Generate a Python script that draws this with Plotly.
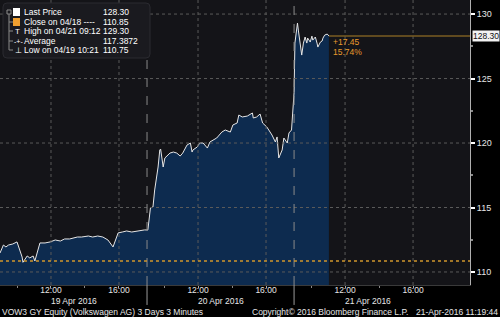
import plotly.graph_objects as go

# ---- data ----
day_labels = ["19 Apr 2016", "20 Apr 2016", "21 Apr 2016"]
day1_times = ["09:00","09:06","09:12","09:21","09:30","09:45","10:00","10:18","10:21","10:36","10:45","10:57","11:03",
              "11:21","11:39","11:57","12:15","12:33","12:48","13:06","13:33","13:48","14:12","14:27","14:45",
              "15:03","15:21","15:39","15:57","16:12","16:27","16:45","17:03","17:21","17:30"]
day1_prices = [111.47,111.86,112.09,111.94,112.09,112.17,112.33,111.16,110.75,111.24,111.09,111.24,110.85,
               112.25,112.25,112.33,112.48,112.40,112.56,112.56,112.71,112.71,112.79,112.71,112.79,
               112.71,112.48,111.94,113.03,113.10,113.18,113.10,113.18,113.26,113.26]
day2_times = ["09:03","09:12","09:21","09:27","09:39","09:45","09:48","09:57","10:03","10:12","10:21","10:33",
              "10:45","10:57","11:06","11:21","11:33","11:39","11:42","11:57","12:06","12:18","12:33","12:42",
              "13:00","13:06","13:24","13:36","13:54","14:03","14:18","14:24","14:36","14:54","15:12","15:15",
              "15:27","15:39","15:48","16:03","16:21","16:33","16:39","16:45","16:57","17:03","17:15","17:21","17:30"]
day2_prices = [113.26,114.96,115.04,116.36,118.14,119.46,119.53,118.14,118.84,119.07,119.22,119.30,
               119.22,118.99,119.22,119.84,120.00,119.30,119.46,119.69,120.00,120.00,119.61,120.08,
               120.31,120.39,120.85,121.01,120.85,121.40,121.55,122.17,122.02,122.09,122.33,121.94,
               122.02,122.25,121.55,121.24,120.62,120.08,120.47,118.84,119.46,120.39,120.00,120.78,121.01]
day3_times = ["09:00","09:03","09:12","09:15","09:21","09:27","09:33","09:39","09:45","09:48","09:57","10:03",
              "10:06","10:15","10:21","10:24","10:33","10:39","10:42","10:48","10:57","11:03"]
day3_prices = [123.90,127.75,129.30,128.76,127.75,126.82,127.75,128.22,127.75,128.14,127.83,128.29,
               127.98,128.22,127.75,127.44,127.83,127.91,128.14,128.37,128.45,128.30]

close_price = 110.85
last_price = 128.30
legend_rows = [("Last Price", "128.30"), ("Close on 04/18 ----", "110.85"),
               ("High on 04/21 09:12", "129.30"), ("Average", "117.3872"),
               ("Low on 04/19 10:21", "110.75")]
change_text = ["+17.45", "15.74%"]
time_ticks = ["12:00", "16:00"]
minor_times = ["10:00", "14:00"]
y_ticks = [110, 115, 120, 125, 130]

# ---- layout helpers ----
DAY = 8.65          # width of one session on the x axis (hours)
W, H = 470, 285     # plot area in px
XR = [0, 27.65]
YR = [108.99, 131.09]

def pos(d, t):
    h, m = t.split(":")
    return d * DAY + int(h) + int(m) / 60 - 9

xs, ys = [], []
for d, (tt, pp) in enumerate([(day1_times, day1_prices), (day2_times, day2_prices), (day3_times, day3_prices)]):
    xs += [pos(d, t) for t in tt]
    ys += pp

FONT = "Liberation Sans"
fig = go.Figure()
fig.add_trace(go.Scatter(x=xs, y=ys, mode="lines", line=dict(color="#e6e6e6", width=1),
                         fill="tozeroy", fillcolor="#0d2b4f", hoverinfo="skip"))

shapes = []
for v in y_ticks:
    shapes.append(dict(type="line", xref="paper", yref="y", x0=0, x1=1, y0=v, y1=v,
                       line=dict(color="#5a5a5a", width=1, dash="dot"), layer="above"))
tick_vals, tick_text, minor_vals = [], [], []
for d in range(3):
    for t in time_ticks:
        xv = pos(d, t)
        tick_vals.append(xv); tick_text.append(t)
        shapes.append(dict(type="line", xref="x", yref="paper", x0=xv, x1=xv, y0=0, y1=1,
                           line=dict(color="#5a5a5a", width=1, dash="dot"), layer="above"))
    for t in minor_times:
        minor_vals.append(pos(d, t))
for d in range(1, 3):
    xv = d * DAY
    shapes.append(dict(type="line", xref="x", yref="paper", x0=xv, x1=xv, y0=0, y1=1,
                       line=dict(color="#8a8a8a", width=1, dash="dash"), layer="above"))
    shapes.append(dict(type="line", xref="x", yref="paper", x0=xv, x1=xv, y0=-0.07, y1=0,
                       line=dict(color="#9a9a9a", width=1), layer="above"))
shapes.append(dict(type="line", xref="paper", yref="y", x0=0, x1=1, y0=close_price, y1=close_price,
                   line=dict(color="#d0962c", width=1.3, dash="dot"), layer="above"))
shapes.append(dict(type="line", xref="x", yref="y", x0=xs[-1], x1=XR[1], y0=last_price, y1=last_price,
                   line=dict(color="#7a5c22", width=1.5), layer="above"))

def px(xp): return xp / W
def py(yp): return 1 - yp / H
x0b, x1b, y0b, y1b, r = 3, 150, 3, 58, 4
path = (f"M {px(x0b+r)},{py(y0b)} L {px(x1b-r)},{py(y0b)} Q {px(x1b)},{py(y0b)} {px(x1b)},{py(y0b+r)} "
        f"L {px(x1b)},{py(y1b-r)} Q {px(x1b)},{py(y1b)} {px(x1b-r)},{py(y1b)} "
        f"L {px(x0b+r)},{py(y1b)} Q {px(x0b)},{py(y1b)} {px(x0b)},{py(y1b-r)} "
        f"L {px(x0b)},{py(y0b+r)} Q {px(x0b)},{py(y0b)} {px(x0b+r)},{py(y0b)} Z")
shapes.append(dict(type="path", xref="paper", yref="paper", path=path,
                   fillcolor="#1a1a1f", line=dict(color="#2a2a30", width=1), layer="above"))
tree_c = "#8a8a8a"
shapes.append(dict(type="rect", xref="paper", yref="paper", x0=px(7), x1=px(11), y0=py(14), y1=py(10),
                   line=dict(color=tree_c, width=1), layer="above"))
shapes.append(dict(type="line", xref="paper", yref="paper", x0=px(9), x1=px(9), y0=py(14), y1=py(50),
                   line=dict(color=tree_c, width=1), layer="above"))
for yy in [22, 31, 41, 50]:
    shapes.append(dict(type="line", xref="paper", yref="paper", x0=px(9), x1=px(13), y0=py(yy), y1=py(yy),
                       line=dict(color=tree_c, width=1), layer="above"))
shapes.append(dict(type="rect", xref="paper", yref="paper", x0=px(13), x1=px(20), y0=py(16), y1=py(8),
                   fillcolor="#ffffff", line=dict(width=0), layer="above"))
shapes.append(dict(type="rect", xref="paper", yref="paper", x0=px(13), x1=px(20), y0=py(26), y1=py(18),
                   fillcolor="#f0a030", line=dict(width=0), layer="above"))

ann = []
def label(text, xpix, ypix, anchor="left", color="#ffffff", size=8.5, font=FONT):
    ann.append(dict(text=text, xref="paper", yref="paper", x=0, y=1, xshift=xpix, yshift=-ypix,
                    xanchor=anchor, yanchor="middle", showarrow=False,
                    font=dict(color=color, size=size, family=font)))

row_y = [12, 22, 31, 41, 50]
for (name, val), yy in zip(legend_rows, row_y):
    label(name, 22, yy)
    label(val, 101, yy)
label("T", 13, 31, size=8)
label("-+-", 12, 41, size=7)
label("⊥", 13, 50, size=8)

for i, t in enumerate(change_text):
    ann.append(dict(text=t, xref="x", yref="y", x=xs[-1], y=last_price, xshift=2, yshift=-6 - 10 * i,
                    xanchor="left", yanchor="middle", showarrow=False,
                    font=dict(color="#e89a2c", size=8.5, family=FONT)))
ann.append(dict(text=f"{last_price:.2f}", xref="paper", yref="y", x=1, y=last_price, xshift=2,
                xanchor="left", yanchor="middle", showarrow=False, bgcolor="#f2f2f2",
                borderpad=0, font=dict(color="#111111", size=8.5, family=FONT)))
for d, lab in enumerate(day_labels):
    ann.append(dict(text=lab, xref="x", yref="paper", x=d * DAY + DAY / 2, y=0, yshift=-(301 - H),
                    xanchor="center", yanchor="middle", showarrow=False,
                    font=dict(color="#e6e6e6", size=8.5, family=FONT)))
FY = -(312 - H)
ann.append(dict(text="VOW3 GY Equity (Volkswagen AG) 3 Days 3 Minutes", xref="paper", yref="paper",
                x=0, y=0, xshift=0, yshift=FY, xanchor="left", yanchor="middle", showarrow=False,
                font=dict(color="#e6e6e6", size=8.5, family=FONT)))
ann.append(dict(text="Copyright© 2016 Bloomberg Finance L.P.", xref="paper", yref="paper",
                x=0, y=0, xshift=330, yshift=FY, xanchor="center", yanchor="middle", showarrow=False,
                font=dict(color="#e6e6e6", size=8.5, family=FONT)))
ann.append(dict(text="21-Apr-2016 11:19:44", xref="paper", yref="paper",
                x=0, y=0, xshift=500, yshift=FY, xanchor="right", yanchor="middle", showarrow=False,
                font=dict(color="#e6e6e6", size=8.5, family=FONT)))

fig.update_layout(
    width=500, height=317, margin=dict(l=0, r=30, t=0, b=32),
    paper_bgcolor="#000000", plot_bgcolor="#141418",
    showlegend=False, shapes=shapes, annotations=ann,
    xaxis=dict(range=XR, showgrid=False, zeroline=False, tickvals=tick_vals, ticktext=tick_text,
               ticks="outside", ticklen=2, tickcolor="#aaaaaa", ticklabelstandoff=-5,
               tickfont=dict(color="#e6e6e6", size=8.5, family=FONT),
               showline=True, linecolor="#3a3a3a", linewidth=1,
               minor=dict(tickvals=minor_vals, ticks="outside", ticklen=2, tickcolor="#888888")),
    yaxis=dict(range=YR, side="right", showgrid=False, zeroline=False, tickvals=y_ticks,
               ticks="outside", ticklen=4, tickwidth=2, tickcolor="#ffffff",
               tickfont=dict(color="#e6e6e6", size=9, family=FONT),
               showline=True, linecolor="#b0b0b0", linewidth=1,
               minor=dict(dtick=2.5, tick0=110, ticks="outside", ticklen=2, tickcolor="#888888")),
)

fig.write_html("out.html")
